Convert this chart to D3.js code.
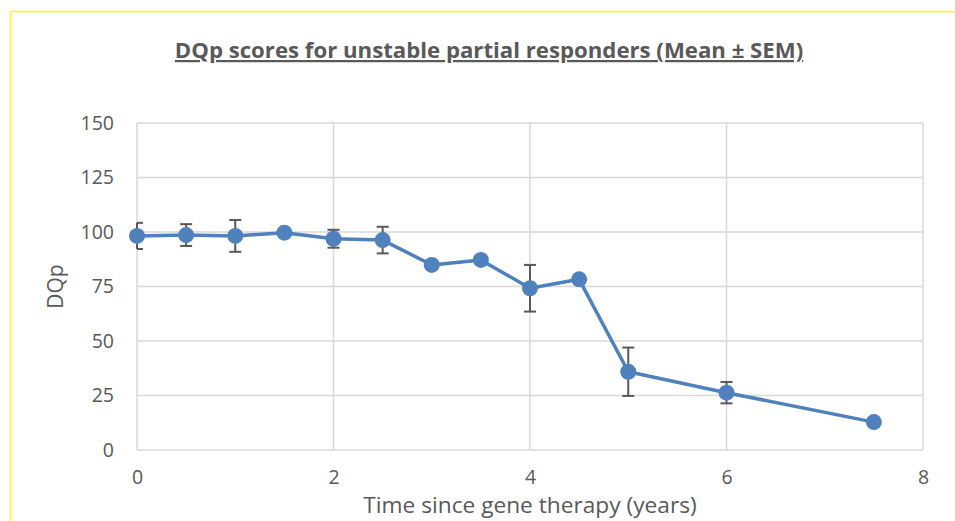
<!DOCTYPE html>
<html>
<head>
<meta charset="utf-8">
<script src="https://cdn.jsdelivr.net/npm/d3@7"></script>
<style>
  html, body { margin: 0; padding: 0; background: #ffffff; }
  svg { display: block; }
</style>
</head>
<body>
<svg id="chart" width="955" height="521"></svg>
<script>
// DQp over time since gene therapy, unstable partial responders
const years = [0, 0.5, 1, 1.5, 2, 2.5, 3, 3.5, 4, 4.5, 5, 6, 7.5];
const dqpMean = [98.2, 98.6, 98.2, 99.7, 96.9, 96.3, 84.9, 87.2, 74.2, 78.3, 35.9, 26.3, 12.8];
const dqpSem = [6.0, 5.0, 7.3, 0, 4.1, 6.1, 1.6, 0, 10.7, 0, 11.1, 4.9, 0];
const xTicks = [0, 2, 4, 6, 8];
const yTicks = [0, 25, 50, 75, 100, 125, 150];

const titleText = "DQp scores for unstable partial responders (Mean \u00B1 SEM)";
const xTitle = "Time since gene therapy (years)";
const yTitle = "DQp";

const svg = d3.select("#chart");
const font = "'Open Sans', 'Liberation Sans', sans-serif";
const textGray = "#595959";
const gridGray = "#d9d9d9";
const lineBlue = "#4f81bd";

// frame border (top and left edges of the chart area)
svg.append("path")
  .attr("d", "M10.5,521 L10.5,11.5 L955,11.5")
  .attr("fill", "none")
  .attr("stroke", "#ffff00")
  .attr("stroke-width", 1.5);

const x = d3.scaleLinear().domain([0, 8]).range([137, 923]);
const y = d3.scaleLinear().domain([0, 150]).range([450, 123]);

// gridlines
const grid = svg.append("g");
grid.selectAll("line.h").data(yTicks).join("line")
  .attr("x1", x(0)).attr("x2", x(8))
  .attr("y1", d => y(d)).attr("y2", d => y(d))
  .attr("stroke", gridGray).attr("stroke-width", 1.5);
grid.selectAll("line.v").data(xTicks).join("line")
  .attr("y1", y(0)).attr("y2", y(150))
  .attr("x1", d => x(d)).attr("x2", d => x(d))
  .attr("stroke", gridGray).attr("stroke-width", 1.5);

// axes (labels only)
const yAxis = svg.append("g")
  .attr("transform", `translate(${x(0)},0)`)
  .call(d3.axisLeft(y).tickValues(yTicks).tickSize(0).tickPadding(23));
const xAxis = svg.append("g")
  .attr("transform", `translate(0,${y(0)})`)
  .call(d3.axisBottom(x).tickValues(xTicks).tickSize(0).tickPadding(20));
[yAxis, xAxis].forEach(g => {
  g.select(".domain").remove();
  g.selectAll("text")
    .attr("font-family", font)
    .attr("font-size", 19.5)
    .attr("fill", textGray);
});

// error bars
const eb = svg.append("g").attr("stroke", "#595959").attr("stroke-width", 2);
const ebData = years.map((t, i) => ({ t, m: dqpMean[i], s: dqpSem[i] })).filter(d => d.s > 0);
eb.selectAll("line.stem").data(ebData).join("line")
  .attr("x1", d => x(d.t)).attr("x2", d => x(d.t))
  .attr("y1", d => y(d.m + d.s)).attr("y2", d => y(d.m - d.s));
eb.selectAll("line.capTop").data(ebData).join("line")
  .attr("x1", d => Math.max(x(0), x(d.t) - 6)).attr("x2", d => x(d.t) + 6)
  .attr("y1", d => y(d.m + d.s)).attr("y2", d => y(d.m + d.s));
eb.selectAll("line.capBot").data(ebData).join("line")
  .attr("x1", d => Math.max(x(0), x(d.t) - 6)).attr("x2", d => x(d.t) + 6)
  .attr("y1", d => y(d.m - d.s)).attr("y2", d => y(d.m - d.s));

// series line
const pts = years.map((t, i) => [t, dqpMean[i]]);
svg.append("path")
  .datum(pts)
  .attr("fill", "none")
  .attr("stroke", lineBlue)
  .attr("stroke-width", 3.5)
  .attr("stroke-linejoin", "round")
  .attr("d", d3.line().x(d => x(d[0])).y(d => y(d[1])));

// markers
svg.append("g").selectAll("circle").data(pts).join("circle")
  .attr("cx", d => x(d[0])).attr("cy", d => y(d[1]))
  .attr("r", 8)
  .attr("fill", lineBlue);

// title
svg.append("text")
  .attr("x", 489).attr("y", 58)
  .attr("text-anchor", "middle")
  .attr("font-family", font)
  .attr("font-size", 22.2)
  .attr("font-weight", "bold")
  .attr("fill", textGray)
  .attr("text-decoration", "underline")
  .text(titleText);

// axis titles
svg.append("text")
  .attr("x", x(4)).attr("y", 513)
  .attr("text-anchor", "middle")
  .attr("font-family", font)
  .attr("font-size", 22.7)
  .attr("fill", textGray)
  .text(xTitle);
svg.append("text")
  .attr("transform", `translate(63,${y(75)}) rotate(-90)`)
  .attr("text-anchor", "middle")
  .attr("font-family", font)
  .attr("font-size", 21)
  .attr("fill", textGray)
  .text(yTitle);
</script>
</body>
</html>
